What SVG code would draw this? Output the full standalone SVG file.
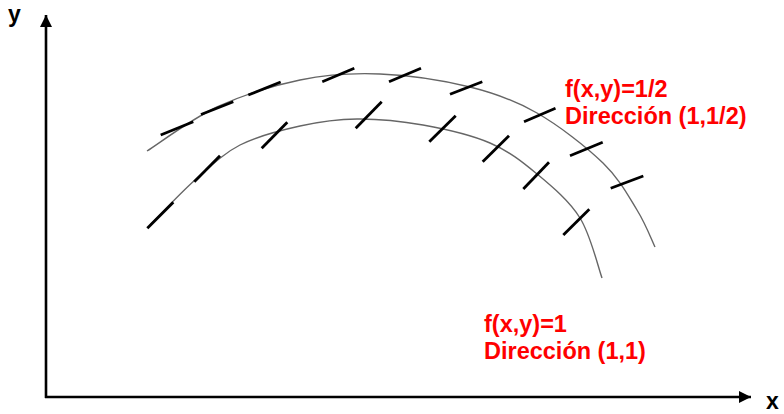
<svg xmlns="http://www.w3.org/2000/svg" width="784" height="414" viewBox="0 0 784 414">
<defs>
<marker id="arr" markerUnits="userSpaceOnUse" markerWidth="14" markerHeight="14" refX="12" refY="6" orient="auto">
<path d="M0,0 L12,6 L0,12 Z" fill="#000"/>
</marker>
</defs>
<style>
.axis{stroke:#000;stroke-width:2.6;fill:none}
.curve{stroke:#666;stroke-width:1.4;fill:none}
.tick{stroke:#000;stroke-width:2.8;fill:none}
.lbl{font-family:"Liberation Sans",Arial,sans-serif;font-weight:bold;font-size:23.5px;fill:#ff0000}
.ax{font-family:"Liberation Sans",Arial,sans-serif;font-weight:bold;font-size:23px;fill:#000}
</style>
<rect width="784" height="414" fill="#fff"/>
<g id="axes">
<line class="axis" x1="46" y1="398" x2="46" y2="15" marker-end="url(#arr)"/>
<line class="axis" x1="45" y1="397" x2="751" y2="397" marker-end="url(#arr)"/>
<text class="ax" x="8" y="22">y</text>
<text class="ax" x="766" y="409">x</text>
</g>
<g id="curve-outer">
<path class="curve" d="M147,151 C158.7,143.7 191.5,118.8 217,107 C242.5,95.2 272.8,85.5 300,80 C327.2,74.5 351.7,72.8 380,74 C408.3,75.2 443.8,80.5 470,87 C496.2,93.5 514.8,100.3 537,113 C559.2,125.7 586.3,146.8 603,163 C619.7,179.2 628.3,196 637,210 C645.7,224 652,240.8 655,247"/>
<g id="ticks-outer">
<line class="tick" x1="160.7" y1="135" x2="193.3" y2="121.7"/>
<line class="tick" x1="201" y1="114.5" x2="233.3" y2="101.7"/>
<line class="tick" x1="248.3" y1="95" x2="280.7" y2="82"/>
<line class="tick" x1="322.3" y1="81.7" x2="354.3" y2="68.3"/>
<line class="tick" x1="389" y1="81.7" x2="421" y2="68.3"/>
<line class="tick" x1="450" y1="94.3" x2="482.3" y2="81.7"/>
<line class="tick" x1="524" y1="121.7" x2="555.5" y2="108.3"/>
<line class="tick" x1="570" y1="155.7" x2="602.7" y2="142.3"/>
<line class="tick" x1="610.7" y1="188.3" x2="643.3" y2="176"/>
</g>
</g>
<g id="curve-inner">
<path class="curve" d="M150,225 C157.5,217.5 180,193.3 195,180 C210,166.7 222.5,154 240,145 C257.5,136 280.5,130.3 300,126 C319.5,121.7 336.5,119.2 357,119 C377.5,118.8 400.8,121 423,125 C445.2,129 471,134.8 490,143 C509,151.2 522,161.5 537,174 C552,186.5 569.2,200.7 580,218 C590.8,235.3 598.3,268 602,278"/>
<g id="ticks-inner">
<line class="tick" x1="147.3" y1="228.3" x2="173.3" y2="202.3"/>
<line class="tick" x1="194.3" y1="181.7" x2="220" y2="155.7"/>
<line class="tick" x1="261.7" y1="148.3" x2="287.3" y2="122.3"/>
<line class="tick" x1="355.7" y1="128.3" x2="381.7" y2="101.7"/>
<line class="tick" x1="429.3" y1="141.7" x2="455.7" y2="115.7"/>
<line class="tick" x1="482.7" y1="161.7" x2="509" y2="135.7"/>
<line class="tick" x1="523.3" y1="189" x2="549" y2="162.3"/>
<line class="tick" x1="563.3" y1="235" x2="589.3" y2="209.3"/>
</g>
</g>
<g id="label-half">
<text class="lbl" x="565" y="97">f(x,y)=1/2</text>
<text class="lbl" x="565" y="123.5">Dirección (1,1/2)</text>
</g>
<g id="label-one">
<text class="lbl" x="484" y="332">f(x,y)=1</text>
<text class="lbl" x="484" y="358.5">Dirección (1,1)</text>
</g>
</svg>
